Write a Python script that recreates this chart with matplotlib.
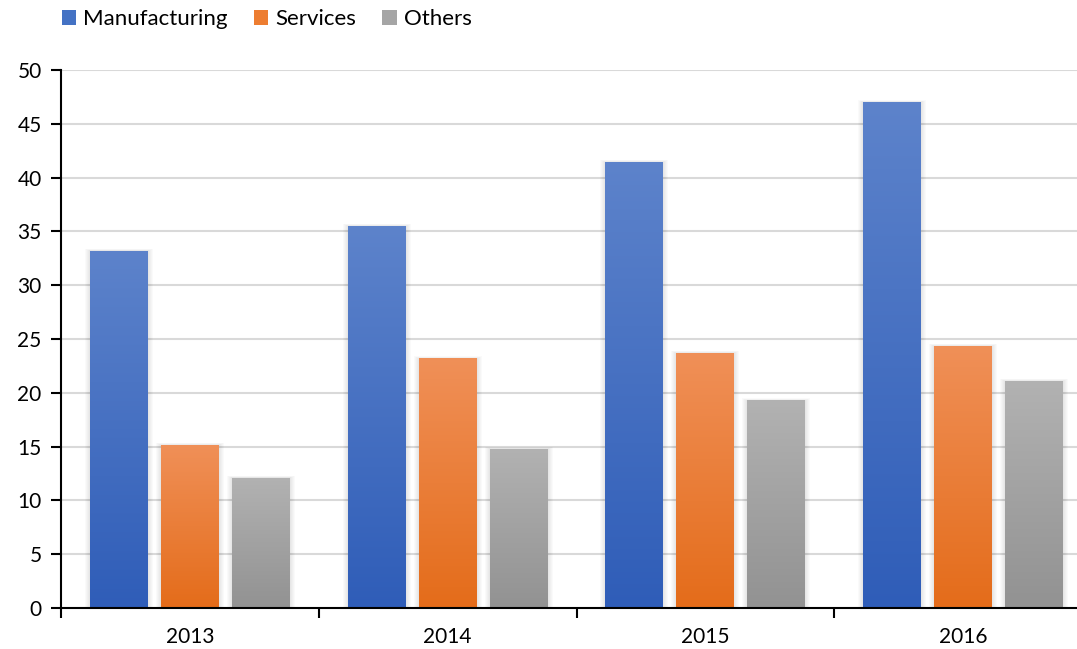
import numpy as np
import matplotlib.pyplot as plt
from matplotlib.patches import Patch, Rectangle
from matplotlib.colors import to_rgb

# Data
years = ["2013", "2014", "2015", "2016"]
manufacturing = [33.2, 35.5, 41.45, 47.0]
services = [15.15, 23.2, 23.7, 24.35]
others = [12.1, 14.8, 19.3, 21.1]
series_names = ["Manufacturing", "Services", "Others"]

# gradient colors (top, bottom) and legend colors
grad = [("#5d83cb", "#2f5db8"), ("#f09058", "#e46c1a"), ("#b2b2b2", "#929292")]
legend_colors = ["#4472c4", "#ed7d31", "#a5a5a5"]

plt.rcParams['font.family'] = ['Lato', 'DejaVu Sans']

W, H = 1077, 649
fig = plt.figure(figsize=(W / 100, H / 100), dpi=100)
ax = fig.add_axes([61 / W, (H - 608) / H, (1092 - 61) / W, (608 - 70) / H])
ax.set_xlim(0, 4)
ax.set_ylim(0, 50)

for y in range(5, 51, 5):
    ax.axhline(y, color="#d9d9d9", lw=1.5, zorder=0)

bw = 58 / 258
step = 71 / 258
px_x = 4 / (1092 - 61)
px_y = 50 / (608 - 70)


def gradient_bar(x0, h, c_top, c_bot):
    # faint soft shadow around the bar
    for k in range(1, 6):
        ax.add_patch(Rectangle((x0 - k * px_x, 0),
                               bw + 2 * k * px_x, h + 0.4 * k * px_y,
                               color="black", alpha=0.018, lw=0, zorder=1))
    rect = Rectangle((x0, 0), bw, h, facecolor="none", edgecolor="none", zorder=2)
    ax.add_patch(rect)
    t = np.linspace(0, 1, 256)[:, None]
    top = np.array(to_rgb(c_top))
    bot = np.array(to_rgb(c_bot))
    img = (1 - t) * top + t * bot  # row 0 = top
    im = ax.imshow(img[:, None, :].repeat(2, axis=1), extent=(x0, x0 + bw, 0, h),
                   aspect="auto", zorder=2, interpolation="bilinear")
    im.set_clip_path(rect)


for j, vals in enumerate([manufacturing, services, others]):
    for i, v in enumerate(vals):
        x0 = i + 0.5 + (j - 1) * step - bw / 2
        gradient_bar(x0, v, *grad[j])

ax.set_xlim(0, 4)
ax.set_ylim(0, 50)

for s in ["top", "right"]:
    ax.spines[s].set_visible(False)
for s in ["left", "bottom"]:
    ax.spines[s].set_linewidth(1.5)
    ax.spines[s].set_color("black")
    ax.spines[s].set_zorder(5)

ax.set_yticks(range(0, 51, 5))
ax.tick_params(axis="y", length=7, width=1.5, labelsize=15, pad=7)
ax.set_xticks(range(0, 5))
ax.set_xticklabels([])
ax.set_xticks([i + 0.5 for i in range(4)], minor=True)
ax.set_xticklabels(years, minor=True)
ax.tick_params(axis="x", which="major", length=7, width=1.5, direction="out")
ax.tick_params(axis="x", which="minor", length=0, labelsize=15, pad=14)

handles = [Patch(facecolor=c, edgecolor="none") for c in legend_colors]
fig.legend(handles, series_names, loc="upper left", bbox_to_anchor=(46 / W, 1.01),
           ncol=3, frameon=False, fontsize=16, handlelength=0.65, handleheight=0.65,
           handletextpad=0.3, columnspacing=1.2, borderaxespad=0.3)

fig.savefig("out.png", dpi=100)
